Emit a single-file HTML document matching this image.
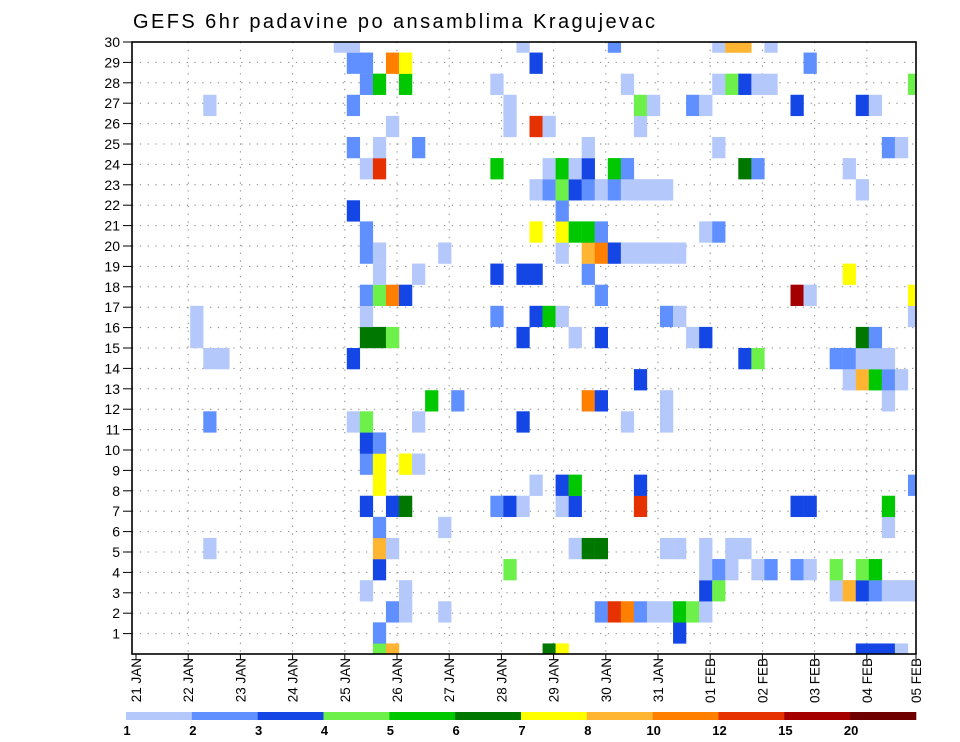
<!DOCTYPE html>
<html><head><meta charset="utf-8"><title>GEFS 6hr padavine po ansamblima Kragujevac</title>
<style>
html,body{margin:0;padding:0;background:#fff;}
svg{display:block;font-family:"Liberation Sans",sans-serif;}
</style></head>
<body>
<svg id="chart" width="960" height="742" viewBox="0 0 960 742" xmlns="http://www.w3.org/2000/svg">
  <defs><clipPath id="plotclip"><rect x="132" y="42" width="784" height="612"/></clipPath></defs>
  <text x="133" y="28" font-size="20" textLength="522" fill="#000">GEFS 6hr padavine po ansamblima Kragujevac</text>
  <g id="grid"></g>
  <g id="cells" clip-path="url(#plotclip)"></g>
  <rect x="132" y="42" width="784" height="612" fill="none" stroke="#000" stroke-width="1.6"/>
  <g id="yaxis"></g>
  <g id="xaxis"></g>
  <g id="colorbar"></g>
</svg>
<script>
// ---- data ----
const dayLabels = ["21 JAN","22 JAN","23 JAN","24 JAN","25 JAN","26 JAN","27 JAN","28 JAN","29 JAN","30 JAN","31 JAN","01 FEB","02 FEB","03 FEB","04 FEB","05 FEB"];
const memberTicks = [1,2,3,4,5,6,7,8,9,10,11,12,13,14,15,16,17,18,19,20,21,22,23,24,25,26,27,28,29,30];
const levels = [1,2,3,4,5,6,7,8,10,12,15,20];
const levelColors = ["#b4c8fc","#6090ff","#1446e6","#6ef04a","#00c800","#007800","#ffff00","#ffb432","#ff7f00","#e63200","#a50000","#6e0000"];
// For each ensemble member row (index 0..29, bottom to top): 6-hourly step indices and precip values (mm)
const rowSteps = [
 [18,19,31,32,55,56,57,58],
 [18,41],
 [19,20,23,35,36,37,38,39,40,41,42,43],
 [17,20,43,44,53,54,55,56,57,58,59],
 [18,28,43,44,45,47,48,50,51,53,55,56],
 [5,18,19,33,34,35,40,41,43,45,46],
 [18,23,57],
 [17,19,20,27,28,29,32,33,38,50,51,57],
 [18,30,32,33,38,59],
 [17,18,20,21],
 [17,18],
 [5,16,17,21,29,37,40],
 [22,24,34,35,40,57],
 [38,54,55,56,57,58],
 [5,6,16,46,47,53,54,55,56,57],
 [4,17,18,19,29,33,35,42,43,55,56],
 [4,17,27,30,31,32,40,41,59],
 [17,18,19,20,35,50,51,59],
 [18,21,27,29,30,34,54],
 [17,18,23,32,34,35,36,37,38,39,40,41],
 [17,30,32,33,34,35,43,44],
 [16,32],
 [30,31,32,33,34,35,36,37,38,39,40,55],
 [17,18,27,31,32,33,34,36,37,46,47,54],
 [16,18,21,34,44,57,58],
 [19,28,30,31,38],
 [5,16,28,38,39,42,43,50,55,56],
 [17,18,20,27,37,44,45,46,47,48,59],
 [16,17,19,20,30,51],
 [15,16,29,36,44,45,46,48]
];
const rowPrecip = [
 [4.5,9,6.5,7.5,3.5,3.5,3.5,1.5],
 [2.5,3.5],
 [2.5,1.5,1.5,2.5,13.5,11,2.5,1.5,1.5,5.5,4.5,1.5],
 [1.5,1.5,3.5,4.5,1.5,9,3.5,2.5,1.5,1.5,1.5],
 [3.5,4.5,1.5,2.5,1.5,1.5,2.5,2.5,1.5,4.5,4.5,5.5],
 [1.5,9,1.5,1.5,6.5,6.5,1.5,1.5,1.5,1.5,1.5],
 [2.5,1.5,1.5],
 [3.5,3.5,6.5,2.5,3.5,1.5,1.5,3.5,13.5,3.5,3.5,5.5],
 [7.5,1.5,3.5,5.5,3.5,2.5],
 [2.5,7.5,7.5,1.5],
 [3.5,2.5],
 [2.5,1.5,4.5,1.5,3.5,1.5,1.5],
 [5.5,2.5,11,3.5,1.5,1.5],
 [3.5,1.5,9,5.5,2.5,1.5],
 [1.5,1.5,3.5,3.5,4.5,2.5,2.5,1.5,1.5,1.5],
 [1.5,6.5,6.5,4.5,3.5,1.5,3.5,1.5,3.5,6.5,2.5],
 [1.5,1.5,2.5,3.5,5.5,1.5,2.5,1.5,1.5],
 [2.5,4.5,11,3.5,2.5,17,1.5,7.5],
 [1.5,1.5,3.5,3.5,3.5,2.5,7.5],
 [2.5,1.5,1.5,1.5,9,11,3.5,1.5,1.5,1.5,1.5,1.5],
 [2.5,7.5,7.5,5.5,5.5,2.5,1.5,2.5],
 [3.5,2.5],
 [1.5,2.5,4.5,3.5,2.5,1.5,2.5,1.5,1.5,1.5,1.5,1.5],
 [1.5,13.5,5.5,1.5,5.5,1.5,3.5,5.5,2.5,6.5,2.5,1.5],
 [2.5,1.5,2.5,1.5,1.5,2.5,1.5],
 [1.5,1.5,13.5,1.5,1.5],
 [1.5,2.5,1.5,4.5,1.5,2.5,1.5,3.5,3.5,1.5],
 [2.5,5.5,5.5,1.5,1.5,1.5,4.5,3.5,1.5,1.5,4.5],
 [2.5,2.5,11,7.5,3.5,2.5],
 [1.5,1.5,1.5,2.5,1.5,9,9,1.5]
];

// ---- scales ----
const NS = "http://www.w3.org/2000/svg";
const PL = 132, PR = 916, PT = 42, PB = 654;
const STEP0 = 138, STEPW = 13.05;   // 6-hourly step -> x
const DAY0 = 136, DAYW = 52.2;      // day tick -> x
const ROWH = (PB - PT) / 29;        // member row -> y
const LABH = (PB - PT) / 30;        // axis label spacing
function xStep(i){ return STEP0 + i * STEPW; }
function xDay(d){ return DAY0 + d * DAYW; }
function yRow(k){ return PB - k * ROWH; }
function yLab(n){ return PB - n * LABH; }
function colorFor(v){ let idx = 0; for (let j = 0; j < levels.length; j++){ if (v >= levels[j]) idx = j; } return levelColors[idx]; }
function mk(tag, attrs, parent){ const e = document.createElementNS(NS, tag); for (const a in attrs) e.setAttribute(a, attrs[a]); parent.appendChild(e); return e; }

// grid
const grid = document.getElementById('grid');
for (let d = 1; d < dayLabels.length - 1; d++){
  const l = mk('line', {x1:xDay(d), x2:xDay(d), y1:PT, y2:PB, stroke:'#888', 'stroke-width':1, 'stroke-dasharray':'1.3 6.5'}, grid);
  
  
}
for (const n of memberTicks){
  if (n >= 30) continue;
  const l = mk('line', {x1:PL, x2:PR, y1:yLab(n), y2:yLab(n), stroke:'#888', 'stroke-width':1, 'stroke-dasharray':'1.3 6.5'}, grid);
  
  
}

// cells
const cells = document.getElementById('cells');
for (let k = 0; k < rowSteps.length; k++){
  const steps = rowSteps[k], vals = rowPrecip[k];
  for (let j = 0; j < steps.length; j++){
    const r = mk('rect', {x:xStep(steps[j]), y:yRow(k) - ROWH/2, width:STEPW + 0.2, height:ROWH + 0.2, fill:colorFor(vals[j])}, cells);
    
    
  }
}

// y axis
const ya = document.getElementById('yaxis');
for (const n of memberTicks){
  const t = mk('line', {x1:123, x2:PL, y1:yLab(n), y2:yLab(n), stroke:'#000', 'stroke-width':1}, ya);
  
  
  const tx = mk('text', {x:120, y:yLab(n) + 5, 'text-anchor':'end', 'font-size':14, fill:'#000'}, ya);
  tx.textContent = String(n);
  
  
}

// x axis
const xa = document.getElementById('xaxis');
for (let d = 0; d < dayLabels.length; d++){
  const x = Math.min(xDay(d), PR);
  const t = mk('line', {x1:x, x2:x, y1:PB, y2:PB + 6, stroke:'#000', 'stroke-width':1}, xa);
  
  
  const tx = mk('text', {x:0, y:0, 'text-anchor':'end', 'font-size':13.5, fill:'#000', transform:'translate(' + (x + 5) + ',' + (PB + 4) + ') rotate(-90)'}, xa);
  tx.textContent = dayLabels[d];
  
  
}

// colorbar
const cb = document.getElementById('colorbar');
const CB0 = 126, CBW = (916 - 126) / levels.length;
for (let j = 0; j < levels.length; j++){
  const r = mk('rect', {x:CB0 + j*CBW, y:712, width:CBW + 0.3, height:8, fill:levelColors[j]}, cb);
  
  
  const tx = mk('text', {x:CB0 + j*CBW + 1, y:735, 'text-anchor':'middle', 'font-size':13, 'font-weight':'bold', fill:'#000'}, cb);
  tx.textContent = String(levels[j]);
  
  
}
</script>
</body></html>
